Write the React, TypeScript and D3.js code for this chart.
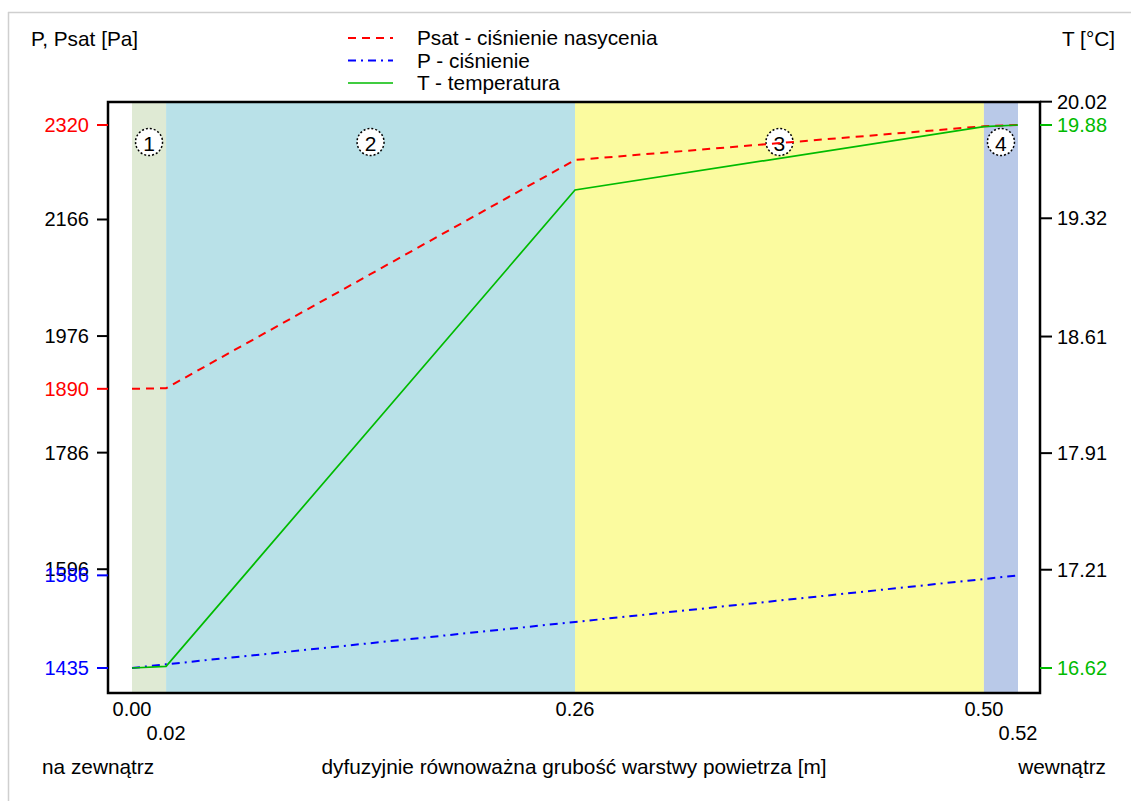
import React from "react";
import * as d3 from "d3";

// Diffusion-equivalent air layer thickness at layer boundaries [m]
const sd = [0, 0.02, 0.26, 0.5, 0.52];
// Saturation pressure, vapour pressure [Pa] and temperature [°C] at each boundary
const psat = [1890, 1891, 2263, 2318, 2320];
const pres = [1435, 1441, 1510, 1580, 1586];
const temp = [16.62, 16.63, 19.49, 19.87, 19.88];

const layerNames = ["1", "2", "3", "4"];
const layerColors = ["#dfead4", "#b9e1e8", "#fbfb9f", "#b9c9e8"];

const pTicks = [2166, 1976, 1786, 1596];
const tTicks = [20.02, 19.32, 18.61, 17.91, 17.21];
const xTicks = [0, 0.02, 0.26, 0.5, 0.52];
const xTickRow = [0, 1, 0, 0, 1];

const FONT = "'Liberation Sans', Arial, Helvetica, sans-serif";
const RED = "#ff0000";
const BLUE = "#0000ff";
const GREEN = "#00bb00";
const LABEL_SIZE = 20.8;
const NUM_SIZE = 20;

export default function App() {
  const W = 1131;
  const H = 801;
  const frame = { left: 108, top: 102, right: 1040, bottom: 693 };

  const x = d3.scaleLinear().domain([0, 0.52]).range([132, 1018]);
  const yP = d3.scaleLinear().domain([1435, 2320]).range([668, 125]);
  const yT = d3.scaleLinear().domain([16.62, 19.88]).range([668, 125]);

  const idx = d3.range(sd.length);
  const lineP = d3
    .line<number>()
    .x((i) => x(sd[i]))
    .y((i) => yP(pres[i]));
  const lineS = d3
    .line<number>()
    .x((i) => x(sd[i]))
    .y((i) => yP(psat[i]));
  const lineT = d3
    .line<number>()
    .x((i) => x(sd[i]))
    .y((i) => yT(temp[i]));

  const leftTicks = [
    ...pTicks.map((v) => ({ v, c: "#000" })),
    { v: psat[0], c: RED },
    { v: psat[psat.length - 1], c: RED },
    { v: pres[0], c: BLUE },
    { v: pres[pres.length - 1], c: BLUE },
  ];
  const rightTicks = [
    ...tTicks.map((v) => ({ v, c: "#000" })),
    { v: temp[0], c: GREEN },
    { v: temp[temp.length - 1], c: GREEN },
  ];

  const legend = [
    { label: "Psat - ciśnienie nasycenia", color: RED, dash: "8,6", w: 2 },
    { label: "P - ciśnienie", color: BLUE, dash: "8,5,2,5", w: 2 },
    { label: "T - temperatura", color: GREEN, dash: "", w: 1.7 },
  ];

  return (
    <svg
      width={W}
      height={H}
      style={{ position: "absolute", left: 0, top: 0, background: "#fff" }}
      fontFamily={FONT}
    >
      <rect x={0} y={0} width={W} height={H} fill="#fff" />
      {/* outer panel border */}
      <line x1={8} y1={12.5} x2={W} y2={12.5} stroke="#cfcfcf" strokeWidth={1.5} />
      <line x1={8.5} y1={12} x2={8.5} y2={H} stroke="#cfcfcf" strokeWidth={1.5} />

      {/* axis titles */}
      <text x={31} y={46} fontSize={LABEL_SIZE}>
        P, Psat [Pa]
      </text>
      <text x={1115} y={46} fontSize={LABEL_SIZE} textAnchor="end">
        T [°C]
      </text>

      {/* legend */}
      {legend.map((l, i) => {
        const y = 38 + i * 22.5;
        return (
          <g key={l.label}>
            <line
              x1={348}
              x2={393}
              y1={y}
              y2={y}
              stroke={l.color}
              strokeWidth={l.w}
              strokeDasharray={l.dash || undefined}
            />
            <text x={417} y={y + 7.3} fontSize={LABEL_SIZE}>
              {l.label}
            </text>
          </g>
        );
      })}

      {/* plot area */}
      <rect
        x={frame.left}
        y={frame.top}
        width={frame.right - frame.left}
        height={frame.bottom - frame.top}
        fill="#fff"
      />
      {layerNames.map((n, i) => (
        <rect
          key={"L" + n}
          x={x(sd[i])}
          y={frame.top}
          width={x(sd[i + 1]) - x(sd[i])}
          height={frame.bottom - frame.top}
          fill={layerColors[i]}
        />
      ))}
      {layerNames.map((n, i) => {
        const cx = (x(sd[i]) + x(sd[i + 1])) / 2;
        return (
          <g key={"N" + n}>
            <circle
              cx={cx}
              cy={142}
              r={13.5}
              fill="#fff"
              stroke="#000"
              strokeWidth={1.5}
              strokeDasharray="2,2"
            />
            <text x={cx} y={143} fontSize={21} textAnchor="middle" dominantBaseline="central">
              {n}
            </text>
          </g>
        );
      })}

      {/* curves */}
      <path d={lineS(idx) || ""} fill="none" stroke={RED} strokeWidth={2} strokeDasharray="8,6" />
      <path d={lineP(idx) || ""} fill="none" stroke={BLUE} strokeWidth={2} strokeDasharray="8,5,2,5" />
      <path d={lineT(idx) || ""} fill="none" stroke={GREEN} strokeWidth={1.7} />

      {/* frame */}
      <rect
        x={frame.left}
        y={frame.top}
        width={frame.right - frame.left}
        height={frame.bottom - frame.top}
        fill="none"
        stroke="#000"
        strokeWidth={2.5}
      />

      {/* left axis */}
      {leftTicks.map((t) => (
        <g key={"p" + t.v}>
          <line x1={97} x2={frame.left} y1={yP(t.v)} y2={yP(t.v)} stroke={t.c} strokeWidth={2} />
          <text
            x={89}
            y={yP(t.v)}
            fontSize={NUM_SIZE}
            fill={t.c}
            textAnchor="end"
            dominantBaseline="central"
          >
            {t.v}
          </text>
        </g>
      ))}

      {/* right axis */}
      {rightTicks.map((t) => (
        <g key={"t" + t.v}>
          <line x1={frame.right} x2={1052} y1={yT(t.v)} y2={yT(t.v)} stroke={t.c} strokeWidth={2} />
          <text x={1057} y={yT(t.v)} fontSize={NUM_SIZE} fill={t.c} dominantBaseline="central">
            {t.v.toFixed(2)}
          </text>
        </g>
      ))}

      {/* bottom axis labels */}
      {xTicks.map((v, i) => (
        <text
          key={"x" + v}
          x={x(v)}
          y={xTickRow[i] ? 733 : 709}
          fontSize={NUM_SIZE}
          textAnchor="middle"
          dominantBaseline="central"
        >
          {v.toFixed(2)}
        </text>
      ))}
      <text x={42} y={774} fontSize={LABEL_SIZE}>
        na zewnątrz
      </text>
      <text x={574} y={774} fontSize={LABEL_SIZE} textAnchor="middle">
        dyfuzyjnie równoważna grubość warstwy powietrza [m]
      </text>
      <text x={1106} y={774} fontSize={LABEL_SIZE} textAnchor="end">
        wewnątrz
      </text>
    </svg>
  );
}
